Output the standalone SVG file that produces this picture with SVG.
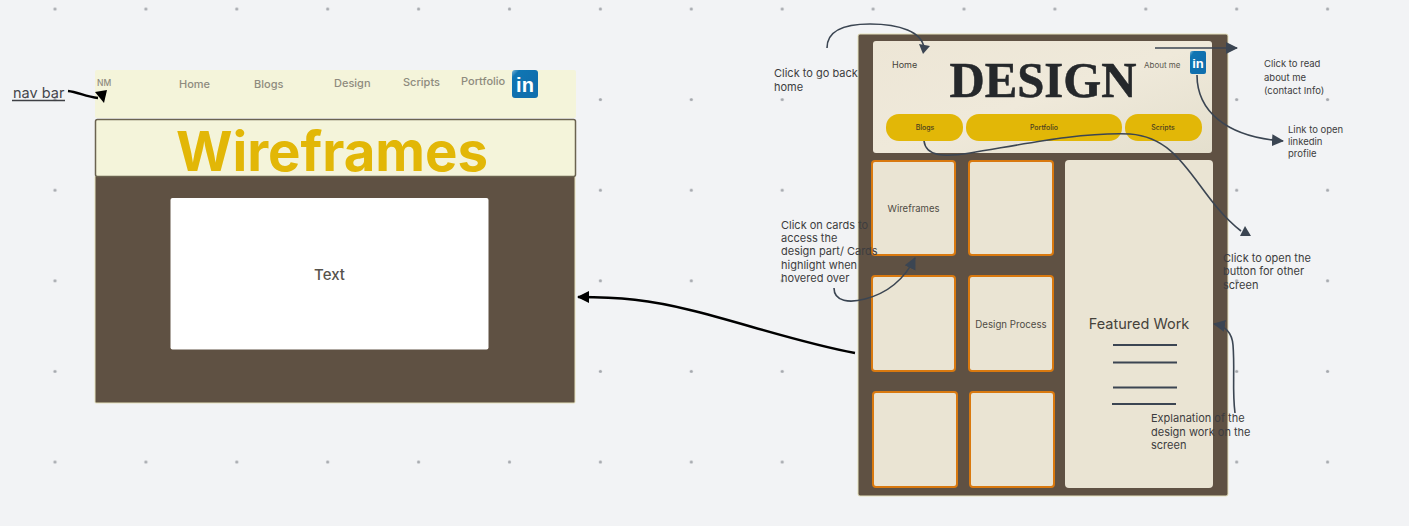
<svg xmlns="http://www.w3.org/2000/svg" width="1409" height="526" viewBox="0 0 1409 526">
<style>
text{font-family:Inter,"Liberation Sans",sans-serif}
.nav{font-size:11px;fill:#8e8b7e;font-weight:500}
.note{font-size:11px;fill:#3d3d40}
.sm{font-size:9.500px}
.card{fill:#eae4d3;stroke:#d9790f;stroke-width:2}
.ln{stroke:#3b4552;stroke-width:2;fill:none}
.c{fill:none;stroke:#3b4552;stroke-width:1.6}
.k{fill:none;stroke:#000;stroke-width:2.4}
.hk{fill:#000}
.hc{fill:#3b4552}
.b{fill:#e2b707}
.bt{font-size:7px;fill:#4a4020;text-anchor:middle;font-weight:500}
.li{fill:url(#lg)}
.lit{fill:#fff;font-weight:700;font-family:"Liberation Sans",sans-serif}
.d{fill:#a5a8ad}
.edge{stroke:#e6e2bd;stroke-width:1}
</style>
<defs>
<linearGradient id="bn" x1="0" y1="0" x2="1" y2="1"><stop offset="0" stop-color="#ede6d6"/><stop offset="0.5" stop-color="#efe9da"/><stop offset="1" stop-color="#e4dfcd"/></linearGradient>
<linearGradient id="lg" x1="0" y1="0" x2="0.6" y2="0.6"><stop offset="0" stop-color="#7fb9d8"/><stop offset="0.25" stop-color="#0f76b3"/><stop offset="1" stop-color="#0f6fae"/></linearGradient>
<marker id="ag" markerWidth="14" markerHeight="14" refX="11" refY="6" orient="auto" markerUnits="userSpaceOnUse" viewBox="0 0 14 12"><path d="M0 0L12 6L0 12Z" fill="#3b4552"/></marker>
<marker id="ak" markerWidth="14" markerHeight="14" refX="11" refY="6" orient="auto" markerUnits="userSpaceOnUse" viewBox="0 0 14 12"><path d="M0 0L12 6L0 12Z" fill="#000"/></marker>
<pattern id="dots" x="9.550" y="-36.300" width="90.900" height="90.600" patternUnits="userSpaceOnUse"><circle cx="45.450" cy="45.300" r="1.600" class="d"/></pattern>
</defs>
<rect width="1409" height="526" fill="#f2f3f5"/>
<rect x="9" y="0" width="1350" height="500" fill="url(#dots)"/>

<g id="wire-navbar">
<rect x="95" y="70" width="481" height="48" rx="2" fill="#f4f4da"/>
<text x="97" y="86" class="nav" style="font-size:8.500px">NM</text>
<text x="179" y="88" class="nav">Home</text>
<text x="254" y="88" class="nav">Blogs</text>
<text x="334" y="87" class="nav">Design</text>
<text x="403" y="86" class="nav">Scripts</text>
<text x="461" y="85" class="nav">Portfolio</text>
<rect x="512" y="70" width="26" height="28" rx="3" class="li"/>
<text x="525" y="92" class="lit" font-size="20" text-anchor="middle">in</text>
</g>
<g id="wire-page">
<rect x="95" y="176" width="480" height="227" rx="1" fill="#5f5143" class="edge"/>
<rect x="95.500" y="119.500" width="480" height="57" rx="2" fill="#f4f4da" stroke="#6b6350" stroke-width="1.500"/>
<text x="332" y="171" font-size="54.500" font-weight="700" fill="#e2b707" text-anchor="middle">Wireframes</text>
<rect x="170.500" y="198" width="318" height="151.500" rx="2" fill="#fff"/>
<text x="329.500" y="280" font-size="15" font-weight="500" fill="#57534c" text-anchor="middle">Text</text>
</g>
<g id="nav-label">
<text x="13" y="98" font-size="14.500" fill="#45464b">nav bar</text>
<path d="M12 100.500H65" stroke="#3f4045" stroke-width="1.500"/>
</g>

<g id="design-page">
<rect x="858" y="34" width="370" height="462" rx="2" fill="#5f5143" class="edge"/>
<rect x="873" y="41" width="339" height="112" rx="3" fill="url(#bn)"/>
<text x="892" y="68" font-size="9" fill="#45423a">Home</text>
<text x="1144" y="68" font-size="8" fill="#5a574d">About me</text>
<text x="1043" y="97" font-size="50" font-weight="700" text-anchor="middle" textLength="187" lengthAdjust="spacingAndGlyphs" style="font-family:'Liberation Serif',serif" fill="#25282b" stroke="#25282b" stroke-width="0.500">DESIGN</text>
<rect x="1190" y="51" width="16" height="23" rx="2" class="li"/>
<text x="1198" y="68" class="lit" font-size="13" text-anchor="middle">in</text>
<rect x="886" y="114" width="77" height="27" rx="13" class="b"/>
<rect x="966" y="114" width="156" height="27" rx="13" class="b"/>
<rect x="1125" y="114" width="77" height="27" rx="13" class="b"/>
<text x="925" y="130" class="bt">Blogs</text>
<text x="1044" y="130" class="bt">Portfolio</text>
<text x="1163" y="130" class="bt">Scripts</text>
</g>
<g id="card-1"><rect x="872" y="161" width="83" height="94" rx="3" class="card"/><text x="913.500" y="212" font-size="9.500" fill="#4f4c45" text-anchor="middle">Wireframes</text></g>
<g id="card-2"><rect x="969" y="161" width="84" height="94" rx="3" class="card"/></g>
<g id="card-3"><rect x="872" y="276" width="83" height="95" rx="3" class="card"/></g>
<g id="card-4"><rect x="969" y="276" width="84" height="95" rx="3" class="card"/><text x="1011" y="328" font-size="9.700" fill="#4f4c45" text-anchor="middle">Design Process</text></g>
<g id="card-5"><rect x="873" y="392" width="84" height="95" rx="3" class="card"/></g>
<g id="card-6"><rect x="970" y="392" width="84" height="95" rx="3" class="card"/></g>
<g id="featured">
<rect x="1065" y="160" width="148" height="328" rx="4" fill="#eae4d3"/>
<text x="1139" y="329" font-size="14.500" fill="#45423a" text-anchor="middle">Featured Work</text>
<path class="ln" d="M1113 345H1177M1113 362.500H1177M1113 387.500H1177M1112 404H1176"/>
</g>

<g id="connectors">
<path class="k" d="M68 91C78 92 86 97 98 98"/>
<path class="hk" d="M95 92L107 90L104 103Z"/>
<path class="k" d="M855 353C800 343 740 322 690 310C650 300 620 297 578 297" marker-end="url(#ak)"/>
<path class="c" d="M827 48C827 30 845 24 870 24C900 24 922 32 924 48"/>
<path class="hc" d="M919 44L930 46L923 54Z"/>
<path class="c" d="M1155 48H1237" marker-end="url(#ag)"/>
<path class="c" d="M1197 75C1197 110 1225 137 1283 141" marker-end="url(#ag)"/>
<path class="c" d="M924 141C926 157 945 157 970 153C1020 145 1080 132 1130 134C1185 138 1195 195 1241 231"/>
<path class="hc" d="M1240 236L1251 236L1245 226Z"/>
<path class="c" d="M834 288C834 302 850 303 865 299C888 293 904 280 915 258" marker-end="url(#ag)"/>
<path class="c" d="M1235 413C1232 390 1235 370 1233 345C1232 333 1226 326 1214 324" marker-end="url(#ag)"/>
</g>

<g id="notes">
<text class="note" x="774" y="77">Click to go back</text>
<text class="note" x="774" y="91">home</text>
<text class="note sm" x="1264" y="67">Click to read</text>
<text class="note sm" x="1264" y="80.500">about me</text>
<text class="note sm" x="1264" y="94">(contact Info)</text>
<text class="note sm" x="1288" y="133">Link to open</text>
<text class="note sm" x="1288" y="145">linkedin</text>
<text class="note sm" x="1288" y="157">profile</text>
<text class="note" x="781" y="228.500">Click on cards to</text>
<text class="note" x="781" y="242">access the</text>
<text class="note" x="781" y="255">design part/ Cards</text>
<text class="note" x="781" y="268.500">highlight when</text>
<text class="note" x="781" y="282">hovered over</text>
<text class="note" x="1223" y="261.500">Click to open the</text>
<text class="note" x="1223" y="275">button for other</text>
<text class="note" x="1223" y="288.500">screen</text>
<text class="note" x="1151" y="422">Explanation of the</text>
<text class="note" x="1151" y="435.500">design work on the</text>
<text class="note" x="1151" y="449">screen</text>
</g>
</svg>
